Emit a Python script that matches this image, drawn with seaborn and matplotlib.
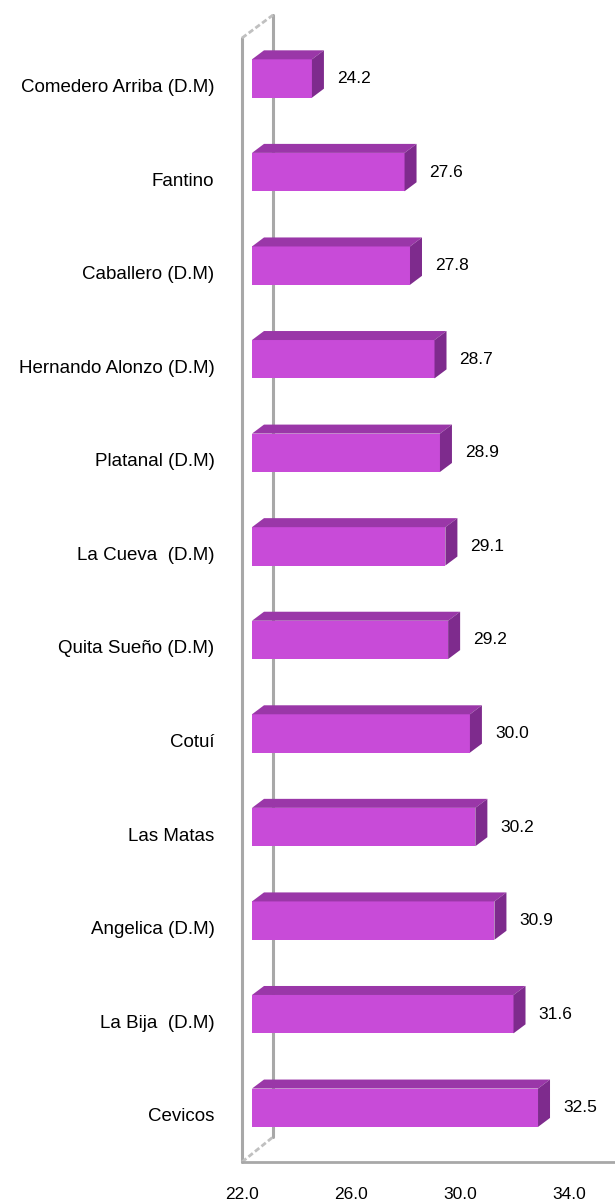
import numpy as np
import pandas as pd
import matplotlib
matplotlib.use('Agg')
import matplotlib.pyplot as plt
from matplotlib.patches import Polygon
from matplotlib.lines import Line2D
from matplotlib.transforms import ScaledTranslation
import seaborn as sns

municipios = ['Comedero Arriba (D.M)', 'Fantino', 'Caballero (D.M)', 'Hernando Alonzo (D.M)',
              'Platanal (D.M)', 'La Cueva  (D.M)', 'Quita Sueño (D.M)', 'Cotuí',
              'Las Matas', 'Angelica (D.M)', 'La Bija  (D.M)', 'Cevicos']
valores = [24.2, 27.6, 27.8, 28.7, 28.9, 29.1, 29.2, 30.0, 30.2, 30.9, 31.6, 32.5]
ticks = [22.0, 26.0, 30.0, 34.0]

c_front = '#c84bd8'
c_top = '#9a37a8'
c_side = '#7e2b8d'
c_wall = '#a8a8a8'

sns.set_style('white')
plt.rcParams['font.family'] = ['Liberation Sans', 'DejaVu Sans']

df = pd.DataFrame({'municipio': municipios, 'valor': valores})

fig = plt.figure(figsize=(6.15, 12.02), dpi=100)
ax = fig.add_axes([252 / 615, 40 / 1202, 363 / 615, 1124 / 1202])
ax.patch.set_visible(False)
sns.barplot(data=df, x='valor', y='municipio', orient='h', color=c_front,
            saturation=1, width=0.41, ax=ax, linewidth=0)

ax.set_xlim(22, 22 + 363 / 27.24)
ax.set_ylim(11.58, -0.433)
ax.set_xticks(ticks)
ax.set_xticklabels(['%.1f' % t for t in ticks])
ax.set_xlabel('')
ax.set_ylabel('')
for s in ax.spines.values():
    s.set_visible(False)
ax.tick_params(axis='x', length=0, pad=18, labelsize=12.5, colors='black')
ax.tick_params(axis='y', length=0, pad=27, labelsize=13.5, colors='black')
for lab in ax.get_xticklabels():
    lab.set_transform(lab.get_transform() + ScaledTranslation(-0.10, 0, fig.dpi_scale_trans))
for lab in ax.get_yticklabels():
    lab.set_transform(lab.get_transform() + ScaledTranslation(0, -0.07, fig.dpi_scale_trans))

fig.canvas.draw()

# paredes 3D (pixeles de pantalla), detras de las barras
bb = ax.get_window_extent()
x_front = bb.x0 - 10
x_back = bb.x0 + 21
fig.add_artist(Line2D([x_front, x_front], [bb.y0, bb.y1], transform=None, color=c_wall, lw=2.2, zorder=-1))
fig.add_artist(Line2D([x_back, x_back], [bb.y0 + 25, bb.y1 + 23], transform=None, color=c_wall, lw=2.2, zorder=-1))
fig.add_artist(Line2D([x_front, x_back], [bb.y1, bb.y1 + 23], transform=None, color='#c0c0c0', lw=2,
                      ls=(0, (2, 1)), zorder=-1))
fig.add_artist(Line2D([x_front, x_back], [bb.y0, bb.y0 + 25], transform=None, color='#c0c0c0', lw=2,
                      ls=(0, (2, 1)), zorder=-1))
fig.add_artist(Line2D([x_front, bb.x1], [bb.y0, bb.y0], transform=None, color=c_wall, lw=2, zorder=-1))

# caras superior y lateral de cada barra
dx, dy = 12, 9
for p in ax.patches:
    x1 = p.get_x() + p.get_width()
    y_top = p.get_y()
    y_bot = p.get_y() + p.get_height()
    (ax0, ayt), (ax1, ayb) = ax.transData.transform([(22, y_top), (x1, y_bot)])
    top = Polygon([(ax0, ayt), (ax1, ayt), (ax1 + dx, ayt + dy), (ax0 + dx, ayt + dy)],
                  closed=True, transform=None, facecolor=c_top, edgecolor='none', clip_on=False)
    side = Polygon([(ax1, ayt), (ax1, ayb), (ax1 + dx, ayb + dy), (ax1 + dx, ayt + dy)],
                   closed=True, transform=None, facecolor=c_side, edgecolor='none', clip_on=False)
    fig.add_artist(top)
    fig.add_artist(side)

ax.bar_label(ax.containers[0], fmt='%.1f', padding=18, fontsize=12.5, color='black')

fig.savefig('out.png', dpi=100)
